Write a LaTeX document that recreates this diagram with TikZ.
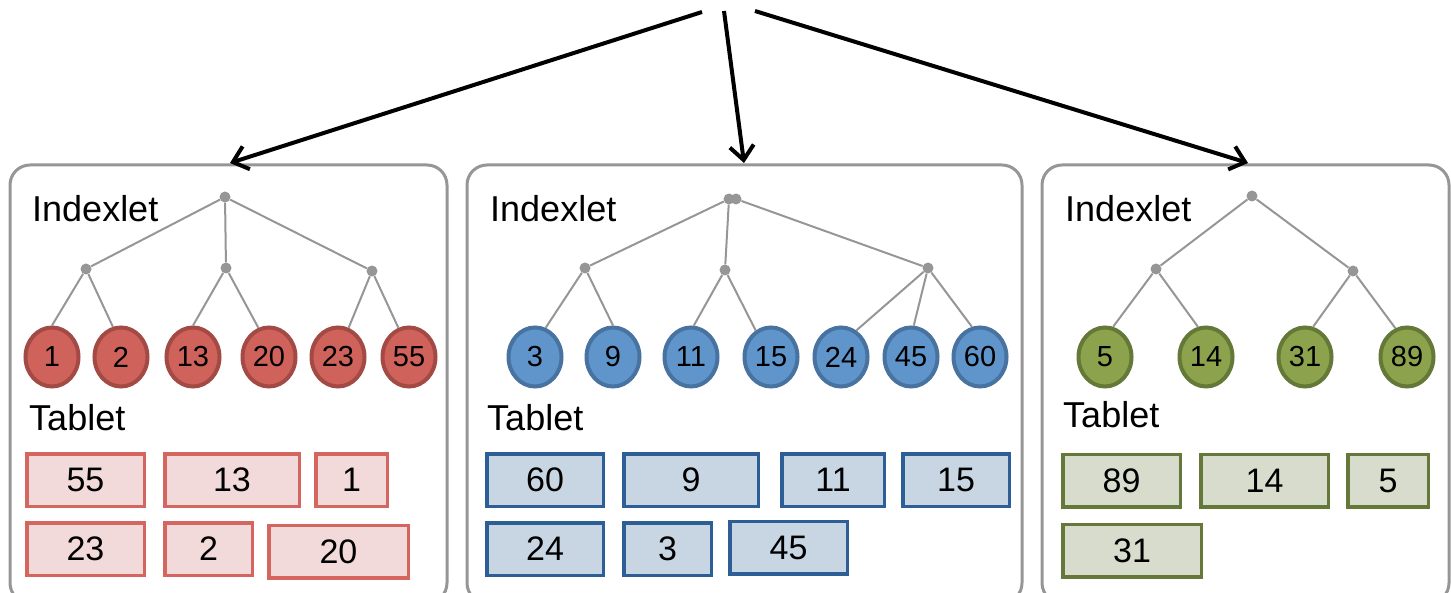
\documentclass[tikz,border=0pt]{standalone}
\usepackage{fontspec}
\setmainfont{Liberation Sans}
\usetikzlibrary{arrows.meta}
\usetikzlibrary{shapes.geometric}
\definecolor{framegray}{HTML}{969696}
\definecolor{redleaffill}{HTML}{CF625B}
\definecolor{redleafline}{HTML}{A34A45}
\definecolor{redcellfill}{HTML}{F2DADA}
\definecolor{redcellline}{HTML}{D4665F}
\definecolor{blueleaffill}{HTML}{5F95CB}
\definecolor{blueleafline}{HTML}{48729F}
\definecolor{bluecellfill}{HTML}{C8D6E4}
\definecolor{bluecellline}{HTML}{2D5F96}
\definecolor{greenleaffill}{HTML}{8CA24C}
\definecolor{greenleafline}{HTML}{647837}
\definecolor{greencellfill}{HTML}{D8DCCD}
\definecolor{greencellline}{HTML}{64783A}

\tikzset{
  panel/.style={draw=framegray, line width=3pt, rounded corners=20pt},
  twig/.style={draw=framegray, line width=2pt},
  knot/.style={circle, fill=framegray, inner sep=0pt, minimum size=11pt},
  heading/.style={anchor=base west, inner sep=0pt, font=\fontsize{36}{40}\selectfont},
  leaf/.style={ellipse, line width=4pt, inner sep=0pt, minimum width=53pt, minimum height=59pt, font=\fontsize{29}{30}\selectfont},
  redleaf/.style={leaf, fill=redleaffill, draw=redleafline},
  blueleaf/.style={leaf, fill=blueleaffill, draw=blueleafline},
  greenleaf/.style={leaf, fill=greenleaffill, draw=greenleafline},
  cell/.style={rectangle, line width=3.5pt, inner sep=0pt, minimum height=52.5pt, font=\fontsize{34}{36}\selectfont},
  redcell/.style={cell, fill=redcellfill, draw=redcellline},
  bluecell/.style={cell, fill=bluecellfill, draw=bluecellline},
  greencell/.style={cell, fill=greencellfill, draw=greencellline},
  arr/.style={line width=4pt, -{Straight Barb[length=14pt,width=24pt]}}
}

\begin{document}
\begin{tikzpicture}[x=1pt, y=-1pt]
  \useasboundingbox (0,0) rectangle (1451,593);

  % three servers
  \draw[panel] (10,165) rectangle (447,603);
  \draw[panel] (467,165) rectangle (1022,603);
  \draw[panel] (1042,165) rectangle (1449,603);

  % arrows from the top
  \coordinate (s1) at (702,12);
  \coordinate (s2) at (724,11);
  \coordinate (s3) at (755,11);
  \coordinate (e1) at (230,163);
  \coordinate (e2) at (744,163);
  \coordinate (e3) at (1248,163);
  \draw[arr] (s1) -- (e1);
  \draw[arr] (s2) -- (e2);
  \draw[arr] (s3) -- (e3);

  % first server
  \node[heading] (ix1) at (32,222) {Indexlet};
  \node[heading] (tb1) at (29,430) {Tablet};
  \node[knot] (r1) at (225,197) {};
  \node[knot] (m1a) at (86,269) {};
  \node[knot] (m1b) at (226,268) {};
  \node[knot] (m1c) at (372,271) {};
  \foreach\v/\x in {1/52,2/121,13/193,20/269,23/338,55/409}
    \node[redleaf] (k\v) at (\x,357) {\v};
  \draw[twig] (r1) -- (m1a);
  \draw[twig] (r1) -- (m1b);
  \draw[twig] (r1) -- (m1c);
  \draw[twig] (m1a) -- (k1.north);
  \draw[twig] (m1a) -- (k2.105);
  \draw[twig] (m1b) -- (k13.north);
  \draw[twig] (m1b) -- (k20.110);
  \draw[twig] (m1c) -- (k23.70);
  \draw[twig] (m1c) -- (k55.110);
  \foreach\v/\x/\w in {55/85.5/121,13/232/138,1/351.5/75}
    \node[redcell, minimum width=\w pt-3.5pt] (t\v) at (\x,480) {\v};
  \foreach\v/\x/\w in {23/85.5/121,2/208.5/91}
    \node[redcell, minimum width=\w pt-3.5pt] (t\v) at (\x,549) {\v};
  \node[redcell, minimum width=139.5pt] (t20) at (338.5,551.5) {20};

  % second server
  \node[heading] (ix2) at (490,222) {Indexlet};
  \node[heading] (tb2) at (487,431) {Tablet};
  \node[knot] (r2a) at (729,199) {};
  \node[knot] (r2b) at (736,199) {};
  \node[knot] (m2a) at (585,268) {};
  \node[knot] (m2b) at (725,270) {};
  \node[knot] (m2c) at (928,268) {};
  \foreach\v/\x in {3/535,9/613,11/691,15/771,24/841,45/911,60/980}
    \node[blueleaf] (k\v) at (\x,357) {\v};
  \draw[twig] (r2a) -- (m2a);
  \draw[twig] (r2a) -- (m2b);
  \draw[twig] (r2b) -- (m2c);
  \draw[twig] (m2a) -- (k3.70);
  \draw[twig] (m2a) -- (k9.north);
  \draw[twig] (m2b) -- (k11.85);
  \draw[twig] (m2b) -- (k15.120);
  \draw[twig] (m2c) -- (k24.60);
  \draw[twig] (m2c) -- (k45.85);
  \draw[twig] (m2c) -- (k60.105);
  \foreach\v/\x/\w in {60/545/120,9/691/138,11/833/106,15/956/110}
    \node[bluecell, minimum width=\w pt-3.5pt] (t\v) at (\x,480) {\v};
  \foreach\v/\x/\w in {24/545/120,3/667.5/91}
    \node[bluecell, minimum width=\w pt-3.5pt] (t\v) at (\x,549) {\v};
  \node[bluecell, minimum width=117.5pt] (t45) at (788.5,547.5) {45};

  % third server
  \node[heading] (ix3) at (1065,222) {Indexlet};
  \node[heading] (tb3) at (1063,428) {Tablet};
  \node[knot] (r3) at (1252,196) {};
  \node[knot] (m3a) at (1156,269) {};
  \node[knot] (m3b) at (1353,271) {};
  \foreach\v/\x in {5/1105,14/1206,31/1305,89/1407}
    \node[greenleaf] (k\v) at (\x,357) {\v};
  \draw[twig] (r3) -- (m3a);
  \draw[twig] (r3) -- (m3b);
  \draw[twig] (m3a) -- (k5.75);
  \draw[twig] (m3a) -- (k14.105);
  \draw[twig] (m3b) -- (k31.75);
  \draw[twig] (m3b) -- (k89.112);
  \foreach\v/\x/\w in {89/1121.5/121,14/1264.5/131,5/1388/84}
    \node[greencell, minimum width=\w pt-3.5pt] (t\v) at (\x,480.5) {\v};
  \node[greencell, minimum width=138.5pt] (t31) at (1132,550.5) {31};
\end{tikzpicture}
\end{document}
